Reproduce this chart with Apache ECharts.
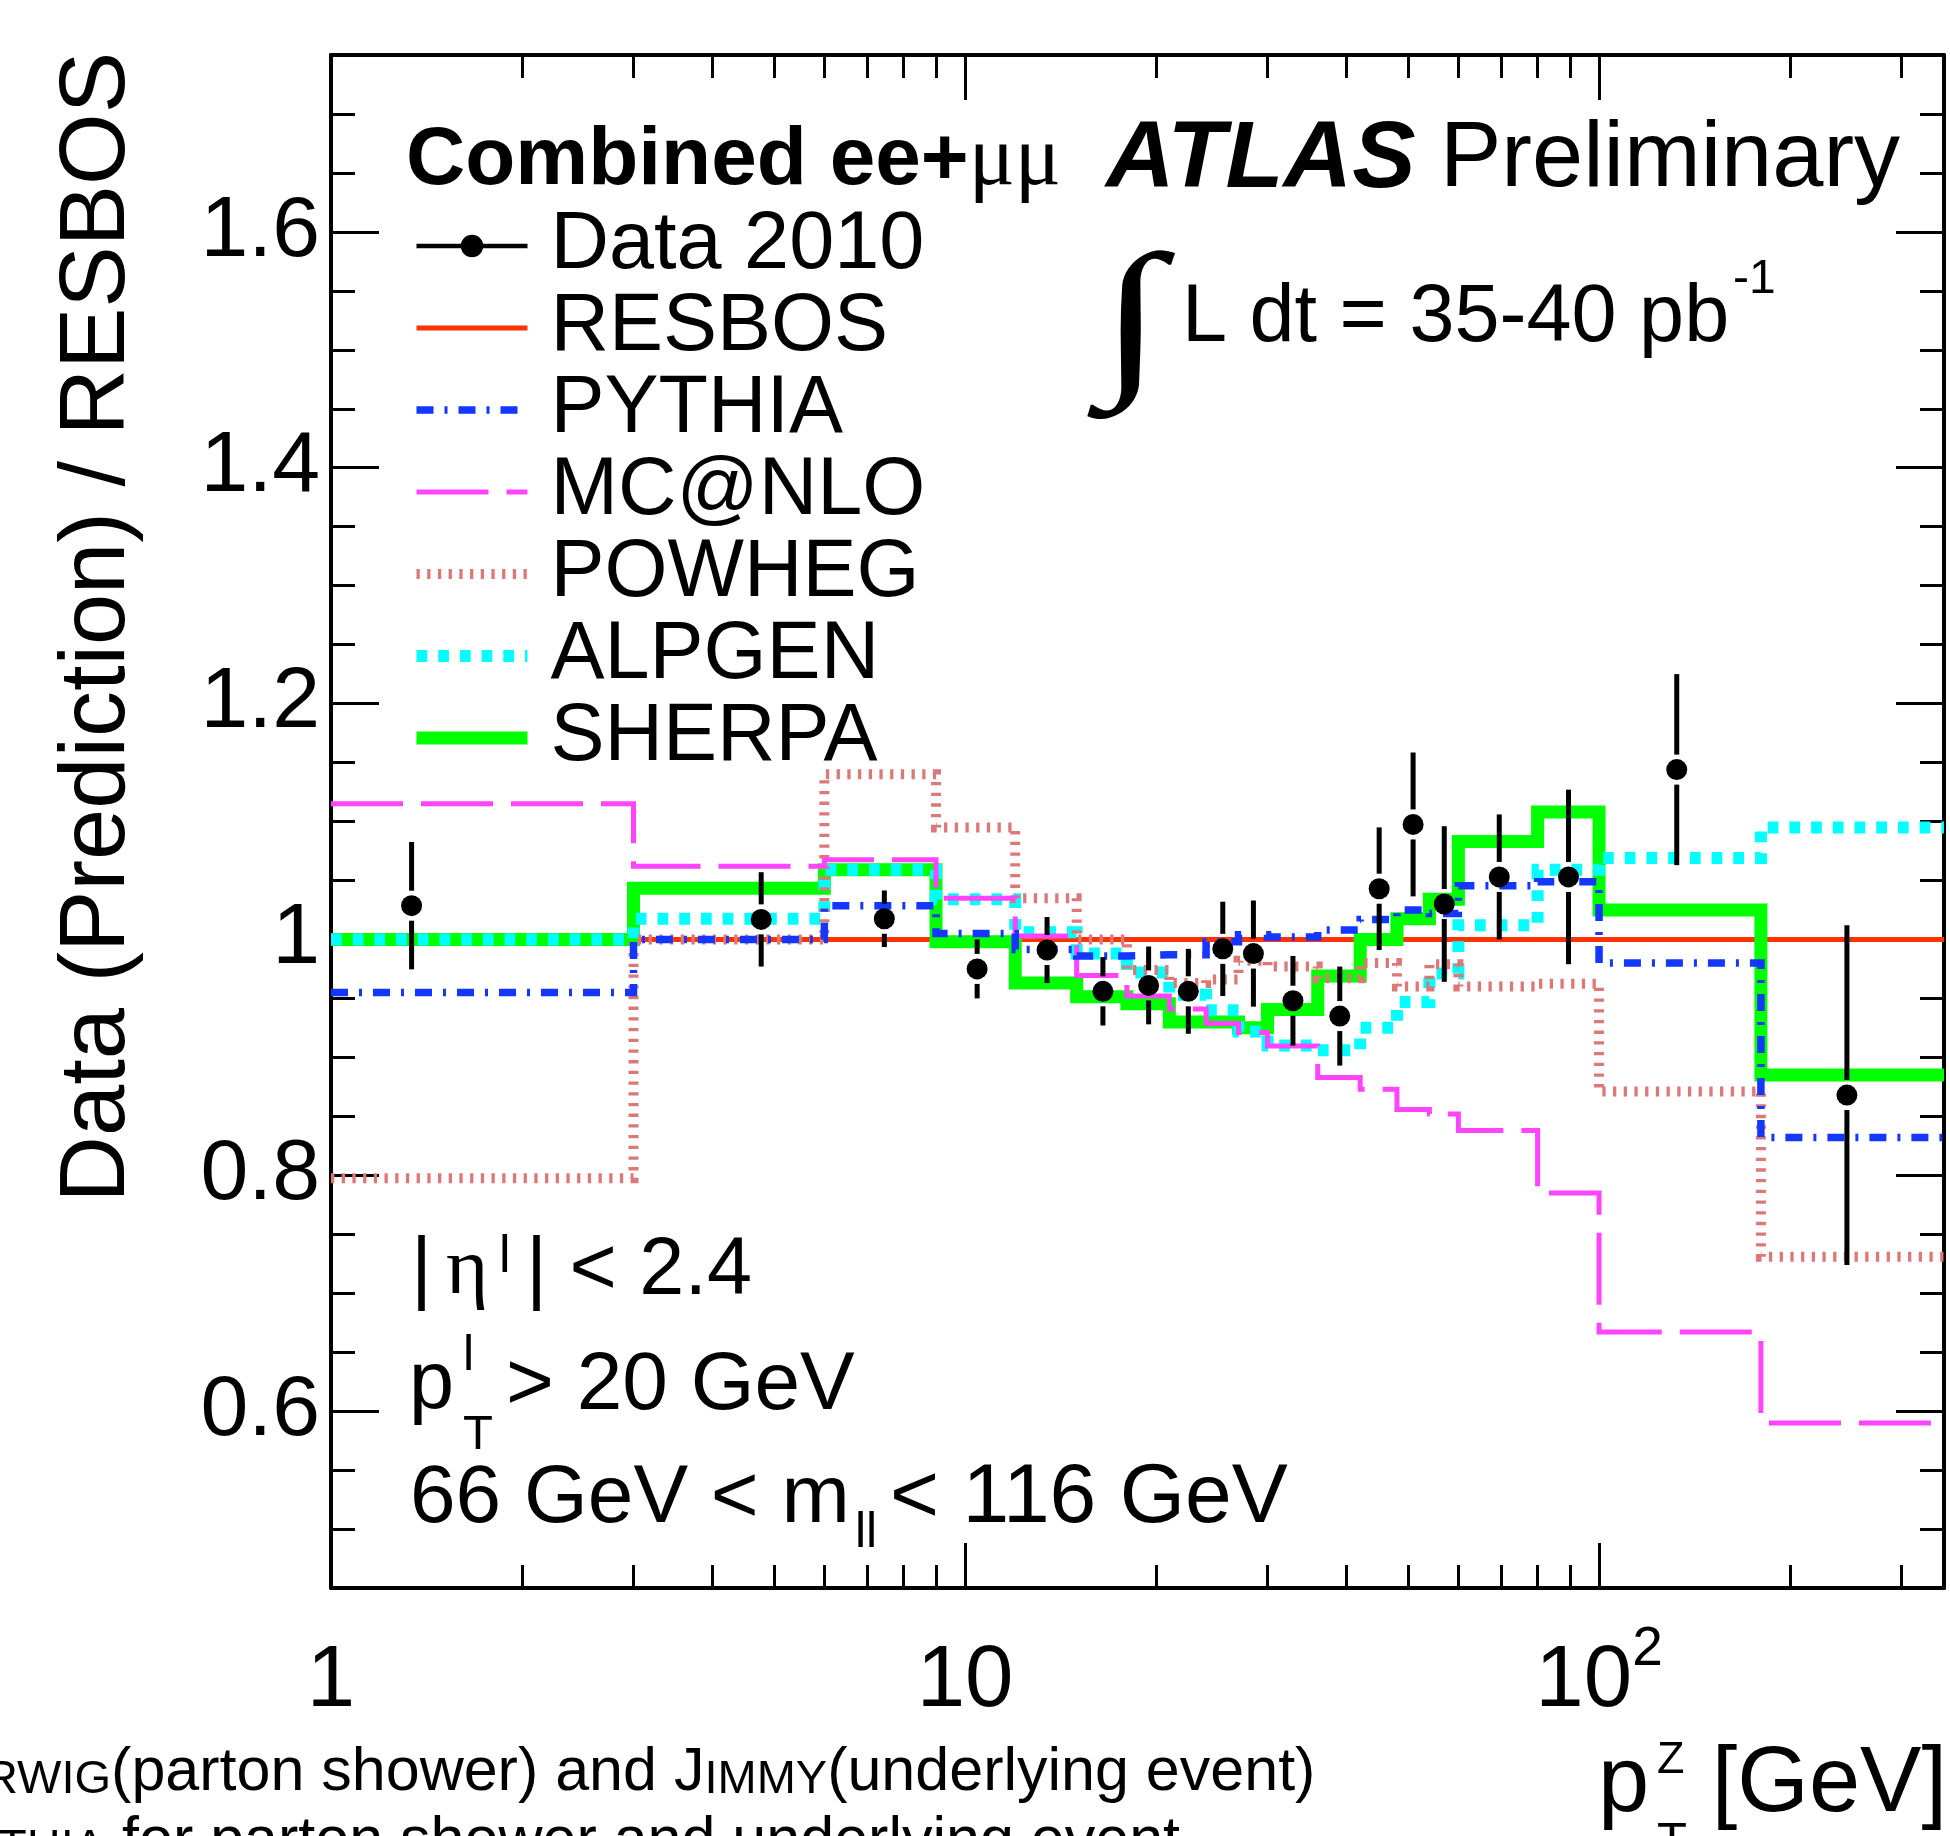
<!DOCTYPE html>
<html>
<head>
<meta charset="utf-8">
<title>Data / RESBOS vs pT(Z)</title>
<script src="https://cdn.jsdelivr.net/npm/echarts@6/dist/echarts.min.js"></script>
<style>
  html, body { margin: 0; padding: 0; background: #fff; }
  #chart { width: 1950px; height: 1836px; }
</style>
</head>
<body>
<div id="chart"></div>
<script>
// bin edges of the prediction histograms (GeV); the 0-3 bin starts at the axis minimum
const binEdges = [1, 3, 6, 9, 12, 15, 18, 21, 24, 27, 30, 36, 42, 48, 54, 60, 70, 80, 100, 180, 350];

// ratio to RESBOS, one value per bin
const resbos  = [1, 1, 1, 1, 1, 1, 1, 1, 1, 1, 1, 1, 1, 1, 1, 1, 1, 1, 1, 1];
const pythia  = [0.955, 1.0, 1.0285, 1.005, 0.9915, 0.986, 0.987, 0.987, 0.998, 1.004, 1.002, 1.008, 1.017, 1.025, 1.022, 1.0455, 1.0455, 1.049, 0.980, 0.832];
const mcatnlo = [1.115, 1.062, 1.0675, 1.035, 1.003, 0.9695, 0.952, 0.941, 0.9286, 0.921, 0.9096, 0.883, 0.873, 0.8557, 0.852, 0.838, 0.838, 0.785, 0.667, 0.59];
const powheg  = [0.7975, 1.0, 1.140, 1.095, 1.035, 1.0, 0.974, 0.963, 0.966, 0.982, 0.977, 0.967, 0.980, 0.960, 0.979, 0.960, 0.960, 0.9625, 0.871, 0.731];
const alpgen  = [1.0, 1.0175, 1.059, 1.034, 1.006, 0.988, 0.972, 0.953, 0.940, 0.922, 0.910, 0.906, 0.925, 0.947, 0.971, 1.012, 1.012, 1.059, 1.069, 1.095];
const sherpa  = [1.0, 1.0435, 1.059, 0.998, 0.963, 0.9514, 0.9455, 0.930, 0.930, 0.925, 0.9405, 0.969, 1.0, 1.0175, 1.034, 1.083, 1.083, 1.108, 1.025, 0.885];

// Data 2010 points
const dataX   = [1.34, 4.77, 7.46, 10.45, 13.47, 16.5, 19.48, 22.5, 25.5, 28.5, 32.9, 39.0, 45.0, 50.9, 57.0, 69.6, 89.5, 132.6, 246];
const dataY   = [1.0286, 1.017, 1.0175, 0.975, 0.991, 0.956, 0.961, 0.956, 0.992, 0.988, 0.948, 0.935, 1.043, 1.0975, 1.030, 1.053, 1.053, 1.144, 0.868];
const dataErr = [0.054, 0.040, 0.024, 0.025, 0.028, 0.029, 0.033, 0.036, 0.040, 0.045, 0.038, 0.042, 0.052, 0.061, 0.066, 0.053, 0.074, 0.081, 0.144];

// axis ticks
const yMajorTicks = [0.6, 0.8, 1.0, 1.2, 1.4, 1.6];
const xTickText = {1: '{n|1}', 10: '{n|10}', 100: '{n|10}{s|2}'};

const FONT = 'Liberation Sans';
const SERIF = 'Liberation Serif';

const chart = echarts.init(document.getElementById('chart'));

// histogram as step line: each bin low edge carries its value, last edge closes the last bin
function steps(vals) {
    return binEdges.map(function (e, i) {
        return [e, vals[Math.min(i, vals.length - 1)]];
    });
}

const models = [
    {name: 'RESBOS',  vals: resbos,  color: '#ff3300', width: 5,   type: 'solid'},
    {name: 'SHERPA',  vals: sherpa,  color: '#00ff00', width: 13,  type: 'solid'},
    {name: 'ALPGEN',  vals: alpgen,  color: '#00ffff', width: 12,  type: [10.7, 11]},
    {name: 'POWHEG',  vals: powheg,  color: '#dc7878', width: 10,  type: [3.3, 7.4]},
    {name: 'MC@NLO',  vals: mcatnlo, color: '#ff44ff', width: 5,   type: [72, 18]},
    {name: 'PYTHIA',  vals: pythia,  color: '#1437ff', width: 7.5, type: [17, 11, 3, 11]}
];

const series = models.map(function (m) {
    return {
        name: m.name,
        type: 'line',
        step: 'end',
        data: steps(m.vals),
        symbol: 'none',
        color: m.color,
        lineStyle: {color: m.color, width: m.width, type: m.type, cap: 'butt', join: 'miter'},
        silent: true
    };
});

function renderErrorBar(params, api) {
    const x = api.value(0), y = api.value(1), e = api.value(2);
    const c = api.coord([x, y]);
    const hi = api.coord([x, y + e]);
    const lo = api.coord([x, y - e]);
    const gap = 15;
    const kids = [];
    if (c[1] - gap > hi[1]) {
        kids.push({type: 'line', shape: {x1: c[0], y1: hi[1], x2: c[0], y2: c[1] - gap},
                   style: {stroke: '#000', lineWidth: 5}});
    }
    if (lo[1] > c[1] + gap) {
        kids.push({type: 'line', shape: {x1: c[0], y1: c[1] + gap, x2: c[0], y2: lo[1]},
                   style: {stroke: '#000', lineWidth: 5}});
    }
    return {type: 'group', children: kids};
}

series.push({
    name: 'errors',
    type: 'custom',
    renderItem: renderErrorBar,
    data: dataX.map(function (x, i) { return [x, dataY[i], dataErr[i]]; }),
    encode: {x: 0, y: 1},
    z: 9,
    silent: true
});
series.push({
    name: 'Data 2010',
    type: 'line',
    data: dataX.map(function (x, i) { return [x, dataY[i]]; }),
    symbol: 'circle',
    symbolSize: 21,
    showSymbol: true,
    color: '#000',
    itemStyle: {color: '#000'},
    lineStyle: {width: 0, opacity: 0},
    z: 10,
    silent: true
});

const legendOrder = ['Data 2010', 'RESBOS', 'PYTHIA', 'MC@NLO', 'POWHEG', 'ALPGEN', 'SHERPA'];
const legendData = legendOrder.map(function (name) {
    if (name === 'Data 2010') {
        return {name: name, lineStyle: {color: '#000', width: 4.5, type: 'solid', opacity: 1},
                itemStyle: {color: '#000', opacity: 1}};
    }
    const m = models.filter(function (d) { return d.name === name; })[0];
    return {name: name, lineStyle: {color: m.color, width: m.width, type: m.type, opacity: 1},
            itemStyle: {opacity: 0}};
});

const frameLine = {color: '#000', width: 4};
const tickLine = {color: '#000', width: 3};

function xAxis(pos, labels) {
    return {
        type: 'log', logBase: 10, min: 1, max: 350, position: pos,
        axisLine: {show: true, onZero: false, lineStyle: frameLine},
        axisTick: {show: true, inside: true, length: 45, lineStyle: tickLine},
        minorTick: {show: true, splitNumber: 9, length: 23, lineStyle: tickLine},
        splitLine: {show: false},
        minorSplitLine: {show: false},
        axisLabel: labels ? {
            show: true, margin: 34, color: '#000',
            formatter: function (v) { return xTickText[Math.round(v)] || ''; },
            rich: {
                n: {fontSize: 87, lineHeight: 120, fontFamily: FONT, color: '#000'},
                s: {fontSize: 55, lineHeight: 55, verticalAlign: 'top', fontFamily: FONT, color: '#000'}
            }
        } : {show: false}
    };
}

function yAxis(pos, major, labels) {
    return {
        type: 'value', min: 0.45, max: 1.75, interval: 0.05, position: pos,
        axisLine: {show: !major, onZero: false, lineStyle: frameLine},
        axisTick: major
            ? {show: true, inside: true, length: 48, customValues: yMajorTicks, lineStyle: tickLine}
            : {show: true, inside: true, length: 24, lineStyle: tickLine},
        splitLine: {show: false},
        axisLabel: labels ? {
            show: true, margin: 11, color: '#000', fontSize: 86, fontFamily: FONT,
            formatter: function (v) {
                const k = Math.round(v * 100);
                if (k % 20 !== 0) return '';
                return k === 100 ? '1' : (k / 100).toFixed(1);
            }
        } : {show: false}
    };
}

function txt(x, y, text, size, extra, rotation) {
    return {
        type: 'text', x: x, y: y, rotation: rotation || 0, silent: true,
        style: Object.assign({text: text, fill: '#000', fontFamily: FONT, fontSize: size,
                              align: 'left', verticalAlign: 'middle'}, extra || {})
    };
}

const integral = txt(1131, 328, '∫', 172, {align: 'center', fontFamily: SERIF});
integral.scaleX = 1.35;

const graphics = [
    // y axis title, reading upwards, ending at the top of the frame
    txt(99, 52, 'Data (Prediction) / RESBOS', 92, {align: 'right'}, Math.PI / 2),
    // header
    txt(406, 161, '{b|Combined ee+}{g|μμ}', 82, {rich: {
        b: {fontSize: 82, fontWeight: 'bold', fontFamily: FONT},
        g: {fontSize: 86, fontFamily: SERIF}
    }}),
    txt(1106, 161, 'ATLAS', 95, {fontWeight: 'bold', fontStyle: 'italic'}),
    txt(1440, 161, 'Preliminary', 92),
    integral,
    txt(1182, 319, 'L dt = 35-40 pb', 81),
    txt(1733, 280, '-1', 48),
    // selection cuts
    txt(411, 1272, '|', 81),
    txt(446, 1272, 'η', 81, {fontFamily: SERIF}),
    txt(499, 1258, 'l', 52),
    txt(526, 1272, '| < 2.4', 81),
    txt(409, 1386, 'p', 81),
    txt(463, 1356, 'l', 50),
    txt(463, 1435, 'T', 49),
    txt(506, 1386, '> 20 GeV', 82),
    txt(410, 1499, '66 GeV < m', 82),
    txt(855, 1533, 'll', 50),
    txt(890, 1499, '< 116 GeV', 84),
    // x axis title
    txt(1598, 1786, 'p', 92),
    txt(1657, 1761, 'Z', 45),
    txt(1657, 1842, 'T', 49),
    txt(1947, 1786, '[GeV]', 92, {align: 'right'}),
    // footnotes cut by the picture edge
    txt(-16, 1773, '{s|RWIG}{n|(parton shower) and J}{s|IMMY}{n|(underlying event)}', 61, {rich: {
        n: {fontSize: 61, lineHeight: 61, fontFamily: FONT},
        s: {fontSize: 47, lineHeight: 51, verticalAlign: 'bottom', fontFamily: FONT}
    }}),
    txt(-2, 1842, '{s|THIA}{n| for parton shower and underlying event}', 61, {rich: {
        n: {fontSize: 61, lineHeight: 61, fontFamily: FONT},
        s: {fontSize: 47, lineHeight: 51, verticalAlign: 'bottom', fontFamily: FONT}
    }})
];

const option = {
    animation: false,
    backgroundColor: '#fff',
    textStyle: {fontFamily: FONT, color: '#000'},
    grid: {left: 331, right: 6, top: 55, bottom: 248, containLabel: false},
    xAxis: [xAxis('bottom', true), xAxis('top', false)],
    yAxis: [yAxis('left', false, true), yAxis('left', true, false),
            yAxis('right', false, false), yAxis('right', true, false)],
    legend: {
        orient: 'vertical', left: 410, top: 205, padding: 0, itemGap: 0,
        itemWidth: 111, itemHeight: 28, selectedMode: false,
        textStyle: {fontSize: 81, lineHeight: 82, color: '#000', fontFamily: FONT, padding: [0, 0, 0, 18]},
        data: legendData
    },
    series: series,
    graphic: {elements: graphics}
};

chart.setOption(option);
</script>
</body>
</html>
